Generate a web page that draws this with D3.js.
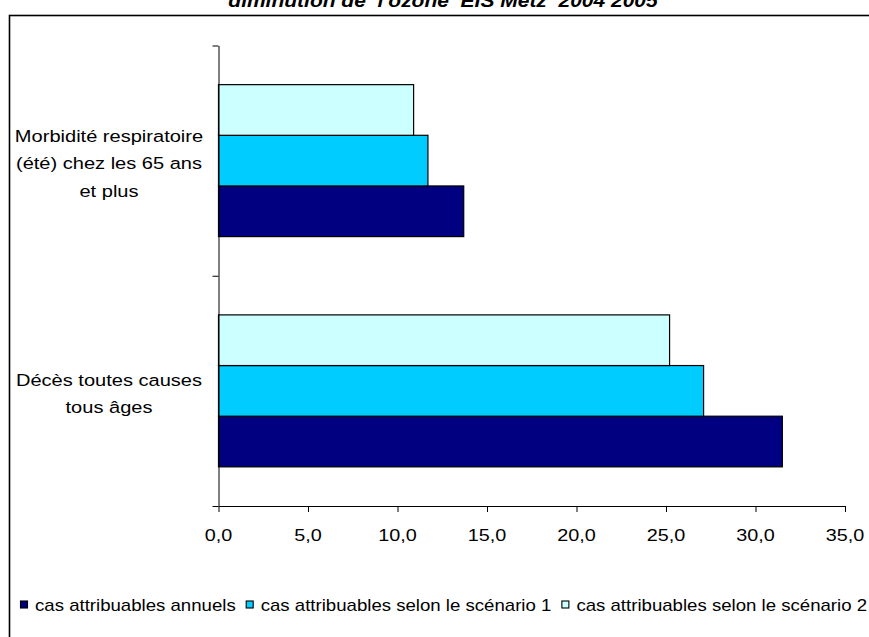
<!DOCTYPE html>
<html>
<head>
<meta charset="utf-8">
<script src="https://cdn.jsdelivr.net/npm/d3@7"></script>
<style>
  html, body { margin: 0; padding: 0; background: #fff; }
  svg { display: block; }
  text { font-family: "Liberation Sans", Arial, sans-serif; fill: #000; }
</style>
</head>
<body>
<svg id="chart" width="869" height="637"></svg>
<script>
// Categories, top to bottom
const categories = [
  ["Morbidité respiratoire", "(été) chez les 65 ans", "et plus"],
  ["Décès toutes causes", "tous âges"]
];
const categoryKeys = ["morbidite", "deces"];

// Series (same order as the legend)
const seriesNames = [
  "cas attribuables annuels",
  "cas attribuables selon le scénario 1",
  "cas attribuables selon le scénario 2"
];
const seriesColors = ["#000080", "#00CCFF", "#CCFFFF"];

// Values per series, aligned with categoryKeys
const annuels   = [13.7, 31.5];
const scenario1 = [11.7, 27.1];
const scenario2 = [10.9, 25.2];
const seriesValues = [annuels, scenario1, scenario2];

const xTicks = [0, 5, 10, 15, 20, 25, 30, 35];
const titleText = "diminution de  l'ozone  EIS Metz  2004 2005";

const svg = d3.select("#chart");

// Outer frame (runs off the right and bottom edges)
svg.append("rect")
  .attr("x", 9.5).attr("y", 15.5)
  .attr("width", 900).attr("height", 700)
  .attr("fill", "#fff").attr("stroke", "#000").attr("stroke-width", 1.6);

// Title (second line of a longer heading)
svg.append("text")
  .attr("transform", "translate(443,7) scale(1.2,1)")
  .attr("text-anchor", "middle")
  .style("white-space", "pre")
  .style("font-weight", "bold").style("font-style", "italic")
  .style("font-size", "17.5px")
  .text(titleText);

const plotLeft = 218.5, plotRight = 845, plotTop = 45.5, plotBottom = 506;

const x = d3.scaleLinear().domain([0, 35]).range([plotLeft, plotRight]);
const y = d3.scaleBand().domain(categoryKeys).range([plotTop, plotBottom])
  .paddingInner(0.34).paddingOuter(0.17);
// Within a group, the first series sits at the bottom
const ySeries = d3.scaleBand().domain([2, 1, 0]).range([0, y.bandwidth()]);

// Bars
const groups = svg.append("g").selectAll("g")
  .data(categoryKeys)
  .join("g")
  .attr("transform", d => `translate(0,${y(d)})`);

groups.selectAll("rect")
  .data((d, ci) => seriesValues.map((vals, si) => ({ si, v: vals[ci] })))
  .join("rect")
  .attr("x", x(0))
  .attr("y", d => ySeries(d.si))
  .attr("width", d => x(d.v) - x(0))
  .attr("height", ySeries.bandwidth())
  .attr("fill", d => seriesColors[d.si])
  .attr("stroke", "#000").attr("stroke-width", 1.2);

// X axis
const xAxis = svg.append("g")
  .attr("transform", `translate(0,${plotBottom})`)
  .call(d3.axisBottom(x).tickValues(xTicks).tickSizeOuter(0).tickSizeInner(6).tickFormat(() => ""));
xAxis.select(".domain").attr("stroke", "#000");
xAxis.selectAll(".tick line").attr("stroke", "#000");
svg.append("g").selectAll("text")
  .data(xTicks)
  .join("text")
  .attr("transform", d => `translate(${x(d)},${plotBottom + 35}) scale(1.2,1)`)
  .attr("text-anchor", "middle")
  .style("font-size", "16.5px")
  .text(d => d3.format(".1f")(d).replace(".", ","));

// Y axis: boundaries between categories
const yAxisScale = d3.scaleLinear().domain([0, 2]).range([plotTop, plotBottom]);
const yAxis = svg.append("g")
  .attr("transform", `translate(${plotLeft},0)`)
  .call(d3.axisLeft(yAxisScale).tickValues([0, 1, 2]).tickSizeOuter(0).tickSizeInner(6).tickFormat(() => ""));
yAxis.select(".domain").attr("stroke", "#000");
yAxis.selectAll(".tick line").attr("stroke", "#000");

// Category labels
const lineH = 27.5;
categoryKeys.forEach((k, ci) => {
  const lines = categories[ci];
  const cy = y(k) + y.bandwidth() / 2 + 8.5;
  lines.forEach((ln, li) => {
    svg.append("text")
      .attr("transform", `translate(109,${cy + (li - (lines.length - 1) / 2) * lineH}) scale(1.18,1)`)
      .attr("text-anchor", "middle")
      .style("font-size", "17px")
      .text(ln);
  });
});

// Legend
const legend = svg.append("g");
const legendStretch = 1.15;
let lx = 20;
seriesNames.forEach((name, i) => {
  legend.append("rect")
    .attr("x", lx + 0.5).attr("y", 601)
    .attr("width", 7).attr("height", 7)
    .attr("fill", seriesColors[i]).attr("stroke", "#000").attr("stroke-width", 1.1);
  const t = legend.append("text")
    .attr("transform", `translate(${lx + 15},611) scale(${legendStretch},1)`)
    .style("font-size", "16.2px")
    .text(name);
  lx += 15 + t.node().getComputedTextLength() * legendStretch + 10;
});
</script>
</body>
</html>
